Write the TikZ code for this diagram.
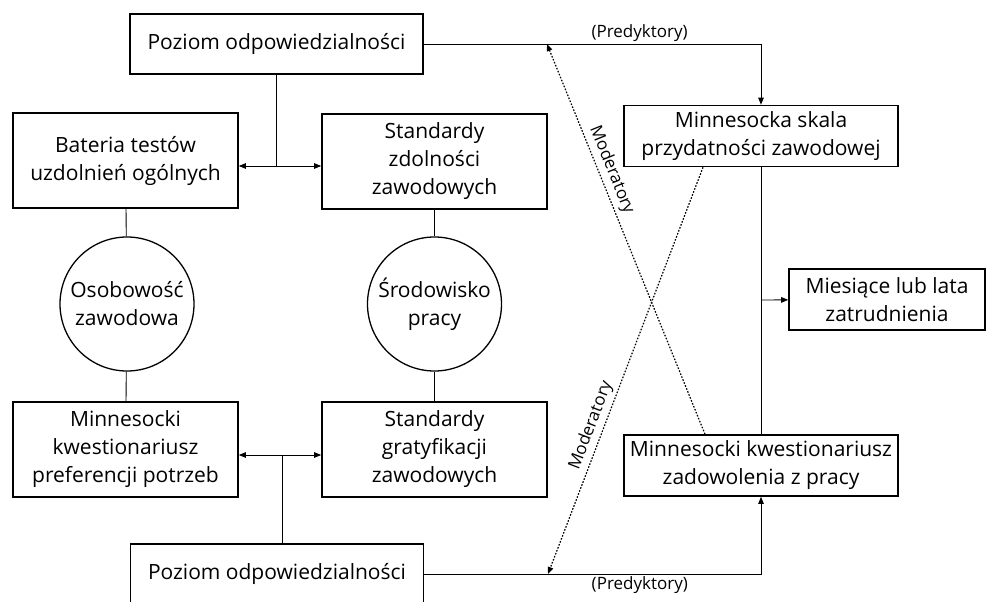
\documentclass[tikz,border=0pt]{standalone}
\usepackage{fontspec}
\setmainfont{Open Sans}
\usetikzlibrary{arrows.meta,positioning}

\begin{document}
\begin{tikzpicture}[
  x=1pt,y=-1pt,
  box/.style={
    draw,
    line width=1.6pt,
    align=center,
    inner sep=0pt,
    font=\fontsize{21}{28}\selectfont
  },
  round/.style={
    draw,
    circle,
    line width=1.3pt,
    align=center,
    inner sep=0pt,
    minimum size=134pt,
    font=\fontsize{21}{28}\selectfont
  },
  link/.style={line width=0.9pt},
  arrow/.style={-{Triangle[length=7pt,width=5.5pt]},line width=0.9pt},
  moder/.style={-{Triangle[length=7pt,width=5.5pt]},line width=1.2pt,dash pattern=on 1.6pt off 1.6pt},
  tag/.style={font=\fontsize{17}{19}\selectfont,inner sep=2pt},
  modtag/.style={tag,sloped,above,inner sep=3.5pt}
]
  \useasboundingbox (0,0) rectangle (996,602);

  \node[box,minimum width=293pt,minimum height=60pt] (ptop) at (276.5,44) {Poziom odpowiedzialności};
  \node[box,minimum width=225pt,minimum height=95pt] (bat) at (125.5,160.5) {Bateria testów\\uzdolnień ogólnych};
  \node[box,minimum width=225pt,minimum height=95pt] (stz) at (434.5,161.5) {Standardy\\zdolności\\zawodowych};
  \node[round] (osob) at (127,304) {Osobowość\\zawodowa};
  \node[round] (srod) at (434.5,304) {Środowisko\\pracy};
  \node[box,minimum width=225pt,minimum height=95pt] (mkp) at (125.5,449.5) {Minnesocki\\kwestionariusz\\preferencji potrzeb};
  \node[box,minimum width=225pt,minimum height=95pt] (sgz) at (434.5,449.5) {Standardy\\gratyfikacji\\zawodowych};
  \node[box,minimum width=293pt,minimum height=60pt] (pbot) at (277,574) {Poziom odpowiedzialności};
  \node[box,minimum width=274pt,minimum height=61pt] (skala) at (761,136) {Minnesocka skala\\przydatności zawodowej};
  \node[box,minimum width=274pt,minimum height=61pt] (zad) at (761,465.5) {Minnesocki kwestionariusz\\zadowolenia z pracy};
  \node[box,minimum width=196pt,minimum height=61pt] (mies) at (887,299.5) {Miesiące lub lata\\zatrudnienia};

  \coordinate (jtop) at (276.5,166);
  \coordinate (jbot) at (282,455);
  \coordinate (ctop) at (761,44);
  \coordinate (cbot) at (761,574);
  \coordinate (cmid) at (761,300);
  \coordinate (mtop) at (547,44);
  \coordinate (mbot) at (548,574);

  \draw[link] (ptop) -- (jtop);
  \draw[arrow] (jtop) -- (bat.east |- jtop);
  \draw[arrow] (jtop) -- (stz.west |- jtop);
  \draw[link] (pbot.north -| jbot) -- (jbot);
  \draw[arrow] (jbot) -- (mkp.east |- jbot);
  \draw[arrow] (jbot) -- (sgz.west |- jbot);

  \draw[link] (bat) -- (osob);
  \draw[link] (osob) -- (mkp);
  \draw[link] (stz) -- (srod);
  \draw[link] (srod) -- (sgz);

  \draw[arrow] (ptop) -- node[tag,above,pos=0.64] {(Predyktory)} (ctop) -- (skala);
  \draw[arrow] (pbot) -- node[tag,below,pos=0.64] {(Predyktory)} (cbot) -- (zad);
  \draw[link] (skala) -- (zad);
  \draw[arrow] (cmid) -- (mies);

  \draw[moder] ([xshift=-56pt]zad.north) -- node[modtag,pos=0.665] {Moderatory} (mtop);
  \draw[moder] ([xshift=-58pt]skala.south) -- node[modtag,pos=0.646] {Moderatory} (mbot);
\end{tikzpicture}
\end{document}
